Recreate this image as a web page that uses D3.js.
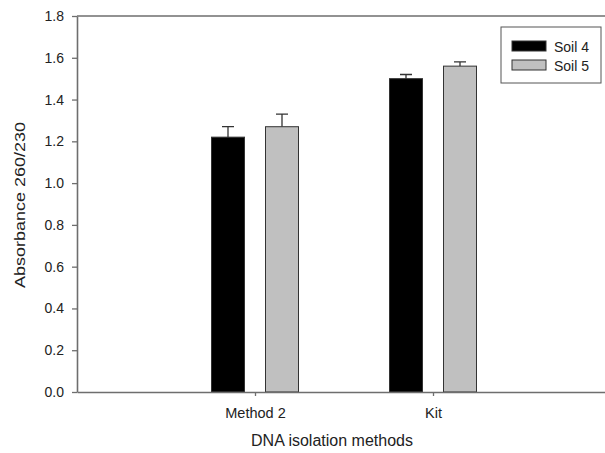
<!DOCTYPE html>
<html>
<head>
<meta charset="utf-8">
<script src="https://cdn.jsdelivr.net/npm/d3@7"></script>
<style>
  body { margin: 0; background: #fff; }
  text { font-family: "Liberation Sans", Arial, sans-serif; fill: #222; }
</style>
</head>
<body>
<div id="chart"></div>
<script>
// data
const methods = ["Method 2", "Kit"];
const series = ["Soil 4", "Soil 5"];
const soil4 = [1.22, 1.50];
const soil4Err = [0.05, 0.02];
const soil5 = [1.27, 1.56];
const soil5Err = [0.06, 0.02];
const yTicks = [0.0, 0.2, 0.4, 0.6, 0.8, 1.0, 1.2, 1.4, 1.6, 1.8];

const W = 605, H = 453;
const margin = {top: 16, right: 0, bottom: 61, left: 77};
const plotH = H - margin.top - margin.bottom;

const svg = d3.select("#chart")
  .append("svg")
    .attr("width", W)
    .attr("height", H);

const g = svg.append("g")
  .attr("transform", `translate(${margin.left},${margin.top})`);

// categories sit at 1 and 2 on a 0..3 axis
const x = d3.scaleLinear().domain([0, 3]).range([0, 534]);
const y = d3.scaleLinear().domain([0, 1.8]).range([plotH, 0]);

const axisColor = "#6e6e6e";
const barW = 33, offset = 27;

const rows = [];
methods.forEach((m, i) => {
  rows.push({m: m, pos: i + 1, s: 0, v: soil4[i], e: soil4Err[i]});
  rows.push({m: m, pos: i + 1, s: 1, v: soil5[i], e: soil5Err[i]});
});
const fills = ["#000000", "#c0c0c0"];

// error bars (upper only)
g.selectAll(".err")
  .data(rows)
  .join("path")
    .attr("fill", "none")
    .attr("stroke", "#333")
    .attr("stroke-width", 1.3)
    .attr("d", d => {
      const cx = x(d.pos) + (d.s === 0 ? -offset : offset);
      return `M${cx},${y(d.v)}V${y(d.v + d.e)}M${cx - 6},${y(d.v + d.e)}H${cx + 6}`;
    });

// bars
g.selectAll(".bar")
  .data(rows)
  .join("rect")
    .attr("x", d => x(d.pos) + (d.s === 0 ? -offset : offset) - barW / 2)
    .attr("y", d => y(d.v))
    .attr("width", barW)
    .attr("height", d => plotH - y(d.v))
    .attr("fill", d => fills[d.s])
    .attr("stroke", "#333")
    .attr("stroke-width", 1);

// Y axis
const yAxis = g.append("g")
  .call(d3.axisLeft(y)
    .tickValues(yTicks)
    .tickFormat(d3.format(".1f"))
    .tickSizeInner(5)
    .tickSizeOuter(0)
    .tickPadding(8));
yAxis.select(".domain").attr("stroke", axisColor).attr("stroke-width", 1.6);
yAxis.selectAll(".tick line").attr("stroke", axisColor).attr("stroke-width", 1.3);
yAxis.selectAll(".tick text")
  .style("font-family", "'Liberation Sans', Arial, sans-serif")
  .style("font-size", "14px")
  .attr("fill", "#222");

// X axis
const xAxis = g.append("g")
  .attr("transform", `translate(0,${plotH})`)
  .call(d3.axisBottom(x)
    .tickValues([1, 2])
    .tickFormat(d => methods[d - 1])
    .tickSizeInner(4)
    .tickSizeOuter(0)
    .tickPadding(12));
xAxis.select(".domain").attr("stroke", axisColor).attr("stroke-width", 1.6);
xAxis.selectAll(".tick line").attr("stroke", axisColor).attr("stroke-width", 1.3);
xAxis.selectAll(".tick text")
  .style("font-family", "'Liberation Sans', Arial, sans-serif")
  .style("font-size", "14.5px")
  .attr("fill", "#222");

// top frame line
g.append("line")
  .attr("x1", 0).attr("x2", 534)
  .attr("y1", 0).attr("y2", 0)
  .attr("stroke", axisColor)
  .attr("stroke-width", 1.6);

// axis titles
svg.append("text")
  .attr("x", 332)
  .attr("y", 446)
  .attr("text-anchor", "middle")
  .style("font-size", "16px")
  .text("DNA isolation methods");

svg.append("text")
  .attr("transform", "translate(25,205) rotate(-90) scale(1.2,1)")
  .attr("text-anchor", "middle")
  .style("font-size", "15px")
  .text("Absorbance 260/230");

// legend
const leg = svg.append("g").attr("transform", "translate(501,27)");
leg.append("rect")
  .attr("width", 100).attr("height", 56)
  .attr("fill", "#fff")
  .attr("stroke", "#555")
  .attr("stroke-width", 1);
series.forEach((s, i) => {
  leg.append("rect")
    .attr("x", 11).attr("y", 14 + i * 19)
    .attr("width", 34).attr("height", 10)
    .attr("fill", fills[i])
    .attr("stroke", "#333");
  leg.append("text")
    .attr("x", 53).attr("y", 25 + i * 19)
    .style("font-size", "14px")
    .text(s);
});
</script>
</body>
</html>
